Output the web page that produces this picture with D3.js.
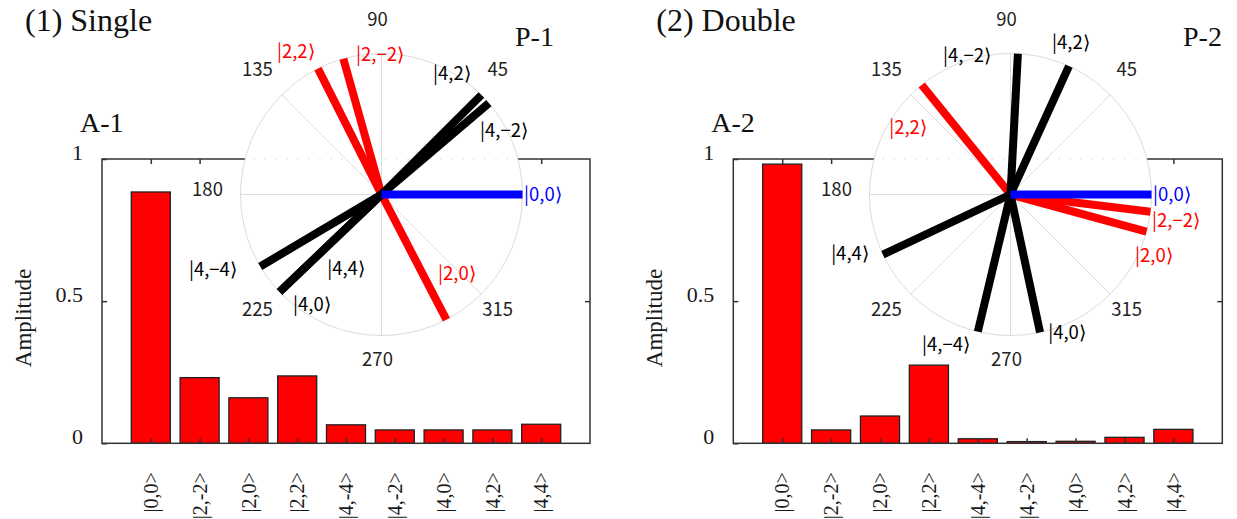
<!DOCTYPE html>
<html>
<head>
<meta charset="utf-8">
<script src="https://cdn.jsdelivr.net/npm/d3@7"></script>
<style>
body { margin: 0; background: #fff; }
svg { display: block; }
</style>
</head>
<body>
<svg id="chart" width="1237" height="519"></svg>
<script>
'use strict'

// states, as written under the bars
var kets = ['|0,0>', '|2,-2>', '|2,0>', '|2,2>', '|4,-4>', '|4,-2>', '|4,0>', '|4,2>', '|4,4>']
// same states, as written next to the polar rays (closing bracket added when drawn)
var ketNames = ['|0,0', '|2,−2', '|2,0', '|2,2', '|4,−4', '|4,−2', '|4,0', '|4,2', '|4,4']
var ketColors = ['#0000ff', '#ff0000', '#ff0000', '#ff0000', '#000', '#000', '#000', '#000', '#000']

// amplitudes (A-1, A-2)
var ampSingle = [0.884, 0.231, 0.160, 0.237, 0.065, 0.047, 0.047, 0.047, 0.067]
var ampDouble = [0.982, 0.047, 0.096, 0.275, 0.016, 0.006, 0.007, 0.021, 0.049]

// phases in degrees (P-1, P-2)
var phaseSingle = [0, 105.7, 297.4, 116.8, 210.7, 40.4, 223.7, 44.9, 223.7]
var phaseDouble = [0, 353, 344.7, 129, 256.6, 87, 282.1, 65.5, 205.2]

// label anchor of each ray: [angle in degrees, radius as a fraction of the circle]
var labelSingle = [[0, 1.145], [90.6, 0.996], [313.5, 0.777], [121, 1.18], [204.1, 1.31],
    [27.4, 0.979], [237.8, 0.926], [59.7, 0.99], [244.5, 0.585]]
var labelDouble = [[0, 1.145], [350.9, 1.189], [336.8, 1.107], [147, 0.867], [246.8, 1.161],
    [107.4, 1.03], [292.2, 1.061], [68.4, 1.163], [200.3, 1.214]]

var gridAngles = [0, 45, 90, 135, 180, 225, 270, 315]
var angleTicks = [45, 90, 135, 180, 225, 270, 315]
var ampTicks = [0, 0.5, 1]

var SERIF = '"Liberation Serif", "Times New Roman", Times, serif'
var SANS = '"Noto Sans CJK JP", "Noto Sans", "DejaVu Sans", sans-serif'

var svg = d3.select('#chart')

var frameTop = 159
var frameBottom = 443.3
var cy = 194.5
var radius = 141

var rad = function(deg) {
    // d3.pointRadial counts clockwise from 12 o'clock
    return (90 - deg) * Math.PI / 180
}

var font = function(sel, family, size, color) {
    sel.style('font-family', family)
        .style('font-size', size + 'px')
        .style('fill', color || '#1a1a1a')
    return sel
}

var drawPanel = function(p) {
    var g = svg.append('g')

    let x = d3.scaleLinear().domain([0, 10]).range([p.left, p.right])
    let y = d3.scaleLinear().domain([0, 1]).range([frameBottom, frameTop])
    let r = d3.scaleLinear().domain([0, 1]).range([0, radius])

    // bars
    g.selectAll('.bar').data(p.amps)
        .enter().append('rect')
        .attr('class', 'bar')
        .attr('x', (d, i) => x(i + 1 - 0.4))
        .attr('width', x(0.8) - x(0))
        .attr('y', d => y(d))
        .attr('height', d => y(0) - y(d))
        .style('fill', '#ff0000')
        .style('stroke', '#222')
        .style('stroke-width', 1.3)

    // frame
    g.append('rect')
        .attr('x', p.left).attr('y', frameTop)
        .attr('width', p.right - p.left).attr('height', frameBottom - frameTop)
        .style('fill', 'none')
        .style('stroke', '#333')
        .style('stroke-width', 1.5)

    let idx = d3.range(1, 10)

    // mirror ticks, pointing inward
    g.append('g')
        .attr('transform', 'translate(0,' + frameTop + ')')
        .call(d3.axisTop(x).tickValues(idx).tickSize(-5).tickFormat(''))
    let bottomAxis = g.append('g')
        .attr('transform', 'translate(0,' + frameBottom + ')')
        .call(d3.axisBottom(x).tickValues(idx).tickSize(-5).tickFormat(i => kets[i - 1]))
    bottomAxis.selectAll('text')
        .attr('transform', 'rotate(-90)')
        .attr('x', -29)
        .attr('y', 0)
        .attr('dy', '0.33em')
        .style('text-anchor', 'end')
        .call(font, SERIF, 20)
    let leftAxis = g.append('g')
        .attr('transform', 'translate(' + p.left + ',0)')
        .call(d3.axisLeft(y).tickValues(ampTicks).tickSize(-5).tickPadding(19)
            .tickFormat(d => d === 0.5 ? '0.5' : d3.format('d')(d)))
    leftAxis.selectAll('text')
        .attr('dy', '0.02em')
        .call(font, SERIF, 22)
    g.append('g')
        .attr('transform', 'translate(' + p.right + ',0)')
        .call(d3.axisRight(y).tickValues([0.5]).tickSize(-5).tickFormat(''))
    g.selectAll('.domain').remove()
    g.selectAll('.tick line').style('stroke', '#333').style('stroke-width', 1.5)

    // y title
    g.append('text')
        .attr('transform', 'translate(' + (p.left - 79) + ',318) rotate(-90)')
        .attr('dy', '0.35em')
        .style('text-anchor', 'middle')
        .call(font, SERIF, 23)
        .text('Amplitude')

    // polar plot
    let pg = g.append('g').attr('transform', 'translate(' + p.cx + ',' + cy + ')')
    pg.append('circle')
        .attr('r', r(1))
        .style('fill', '#fff')
        .style('stroke', '#dcdcdc')
        .style('stroke-width', 1)

    // faint remnant of the frame line under the circle
    let half = Math.sqrt(radius * radius - (cy - frameTop) * (cy - frameTop))
    pg.append('line')
        .attr('x1', -half + 8).attr('x2', half - 8)
        .attr('y1', frameTop - cy).attr('y2', frameTop - cy)
        .style('stroke', '#e2e2e2')
        .style('stroke-dasharray', '2,9')

    pg.selectAll('.spoke').data(gridAngles)
        .enter().append('line')
        .attr('class', 'spoke')
        .attr('x2', a => d3.pointRadial(rad(a), r(1))[0])
        .attr('y2', a => d3.pointRadial(rad(a), r(1))[1])
        .style('stroke', '#dcdcdc')
        .style('stroke-width', 1)

    pg.selectAll('.angle').data(angleTicks)
        .enter().append('text')
        .attr('class', 'angle')
        .attr('x', a => d3.pointRadial(rad(a), 170)[0] - 4)
        .attr('y', a => d3.pointRadial(rad(a), 170)[1] - 5)
        .attr('dy', '0.35em')
        .style('text-anchor', 'middle')
        .call(font, SANS, 18.5, '#222')
        .text(a => a)

    let order = [1, 2, 3, 4, 5, 6, 7, 8, 0]
    pg.selectAll('.ray').data(order)
        .enter().append('line')
        .attr('class', 'ray')
        .attr('x2', i => d3.pointRadial(rad(p.phases[i]), r(1))[0])
        .attr('y2', i => d3.pointRadial(rad(p.phases[i]), r(1))[1])
        .style('stroke', i => ketColors[i])
        .style('stroke-width', 8)

    let ket = pg.selectAll('.ket').data(p.labels)
        .enter().append('text')
        .attr('class', 'ket')
        .attr('x', l => d3.pointRadial(rad(l[0]), r(l[1]))[0])
        .attr('y', l => d3.pointRadial(rad(l[0]), r(l[1]))[1])
        .attr('dy', '0.35em')
        .style('text-anchor', 'middle')
        .call(font, SANS, 18.5)
        .style('fill', (l, i) => ketColors[i])
    ket.append('tspan').text((l, i) => ketNames[i])
    ket.append('tspan')
        .style('font-family', '"DejaVu Sans", sans-serif')
        .style('font-weight', 300)
        .text('\u27E9')

    // panel captions
    g.append('text')
        .attr('x', p.left - 77).attr('y', 31)
        .call(font, SERIF, 32, '#111')
        .text(p.title)
    g.append('text')
        .attr('x', p.left - 22).attr('y', 132)
        .call(font, SERIF, 28, '#111')
        .text(p.ampName)
    g.append('text')
        .attr('x', p.phaseX).attr('y', 46)
        .call(font, SERIF, 28, '#111')
        .text(p.phaseName)
}

drawPanel({
    left: 102, right: 590, cx: 381.5, phaseX: 515,
    amps: ampSingle, phases: phaseSingle, labels: labelSingle,
    title: '(1) Single', ampName: 'A-1', phaseName: 'P-1'
})
drawPanel({
    left: 733.3, right: 1222.3, cx: 1010.5, phaseX: 1183,
    amps: ampDouble, phases: phaseDouble, labels: labelDouble,
    title: '(2) Double', ampName: 'A-2', phaseName: 'P-2'
})
</script>
</body>
</html>
